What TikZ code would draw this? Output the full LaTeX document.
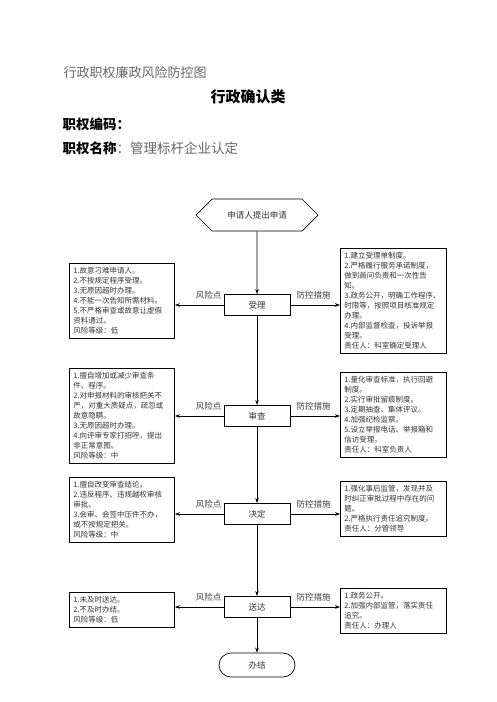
\documentclass[tikz,border=0pt]{standalone}
\usepackage{fontspec}
\setmainfont{Noto Sans CJK SC}
\usetikzlibrary{arrows.meta,positioning,shapes.symbols,calc}

\begin{document}
\begin{tikzpicture}[
	x=1pt, y=-1pt,
	>={Stealth[length=5pt,width=3.6pt]},
	step node/.style={
		rectangle, draw=black, line width=0.9pt,
		minimum width=66pt, minimum height=21pt,
		inner sep=2pt, font=\fontsize{8.5}{10}\selectfont, text=black!80
	},
	start node/.style={
		signal, signal to=west and east, signal pointer angle=90,
		draw=black, line width=0.7pt,
		minimum width=122pt, minimum height=32pt,
		inner sep=1pt, font=\fontsize{8.5}{10}\selectfont, text=black!80
	},
	end node/.style={
		rectangle, rounded corners=12pt, draw=black, line width=0.7pt,
		minimum width=76pt, minimum height=24pt,
		font=\fontsize{8.5}{10}\selectfont, text=black!80
	},
	risk/.style={
		rectangle, draw=black, line width=0.9pt,
		text width=97pt, align=left, inner sep=4pt,
		anchor=north west, font=\fontsize{7.5}{10}\selectfont, text=black!80
	},
	guard/.style={
		rectangle, draw=black, line width=0.9pt,
		text width=98pt, align=left, inner sep=4pt,
		anchor=north west, font=\fontsize{7.5}{10}\selectfont, text=black!80
	},
	lbl/.style={inner sep=1pt, font=\fontsize{8.5}{10}\selectfont, text=black!75},
	arr/.style={->, line width=0.8pt, black}
]
\useasboundingbox (0,0) rectangle (496,702);

% Heading
\node[anchor=west, font=\fontsize{13}{15}\selectfont, text=black!60] (title) at (60,73) {行政职权廉政风险防控图};
\node[font=\fontsize{15}{17}\selectfont\bfseries] (kind) at (248,97) {行政确认类};
\node[anchor=west, font=\fontsize{13.5}{15}\selectfont\bfseries] (code) at (59,124) {职权编码：};
\node[anchor=west, font=\fontsize{13.5}{15}\selectfont] (name) at (59,148)
	{\textbf{职权名称}\textcolor{black!60}{：管理标杆企业认定}};

% Centre spine x=257
\node[start node] (apply) at (257,215) {申请人提出申请};
\node[step node] (accept) at (257,305) {受理};
\node[step node] (review) at (257,416) {审查};
\node[step node] (decide) at (257,514) {决定};
\node[step node] (serve)  at (257,607) {送达};
\node[end node]  (close)  at (257,665) {办结};

\draw[arr] (apply) -- (accept);
\draw[arr] (accept) -- (review);
\draw[arr] (review) -- (decide);
\draw[arr] (decide) -- (serve);
\draw[arr] (serve) -- (close);

% Risk points, left column x=69
\node[risk] (risk1) at (69,263) {
	1.故意刁难申请人。\\
	2.不按规定程序受理。\\
	3.无原因超时办理。\\
	4.不能一次告知所需材料。\\
	5.不严格审查或故意让虚假\\
	资料通过。\\
	风险等级：低
};
\node[risk] (risk2) at (69,368) {
	1.擅自增加或减少审查条\\
	件、程序。\\
	2.对申报材料的审核把关不\\
	严，对重大质疑点，疏忽或\\
	故意隐瞒。\\
	3.无原因超时办理。\\
	4.向评审专家打招呼，提出\\
	非正常意图。\\
	风险等级：中
};
\node[risk] (risk3) at (69,477) {
	1.擅自改变审查结论。\\
	2.违反程序、违规越权审核\\
	审批。\\
	3.会审、会签中压件不办，\\
	或不按规定把关。\\
	风险等级：中
};
\node[risk] (risk4) at (69,592) {
	1.未及时送达。\\
	2.不及时办结。\\
	风险等级：低
};

% Control measures, right column x=340
\node[guard] (ctrl1) at (340,248) {
	1.建立受理单制度。\\
	2.严格履行服务承诺制度，\\
	做到首问负责和一次性告\\
	知。\\
	3.政务公开，明确工作程序、\\
	时限等，按照项目核准规定\\
	办理。\\
	4.内部监督检查，投诉举报\\
	受理。\\
	责任人：科室确定受理人
};
\node[guard] (ctrl2) at (340,372) {
	1.量化审查标准，执行回避\\
	制度。\\
	2.实行审批留痕制度。\\
	3.定期抽查、集体评议。\\
	4.加强纪检监察。\\
	5.设立举报电话、举报箱和\\
	信访受理。\\
	责任人：科室负责人
};
\node[guard] (ctrl3) at (340,481) {
	1.强化事后监管，发现并及\\
	时纠正审批过程中存在的问\\
	题。\\
	2.严格执行责任追究制度。\\
	责任人：分管领导
};
\node[guard] (ctrl4) at (340,588) {
	1.政务公开。\\
	2.加强内部监管，落实责任\\
	追究。\\
	责任人：办理人
};

% Side links with labels
\foreach \s/\i in {accept/1, review/2, decide/3, serve/4} {
	\draw[arr] (\s.west) -- (\s.west -| risk\i.east);
	\draw[arr] (\s.east) -- (\s.east -| ctrl\i.west);
	\node[lbl, anchor=south east] (rl\i) at ([xshift=-1pt, yshift=5pt]\s.west) {风险点};
	\node[lbl, anchor=south west] (cl\i) at ([xshift=5pt, yshift=5pt]\s.east) {防控措施};
}

\end{tikzpicture}
\end{document}
